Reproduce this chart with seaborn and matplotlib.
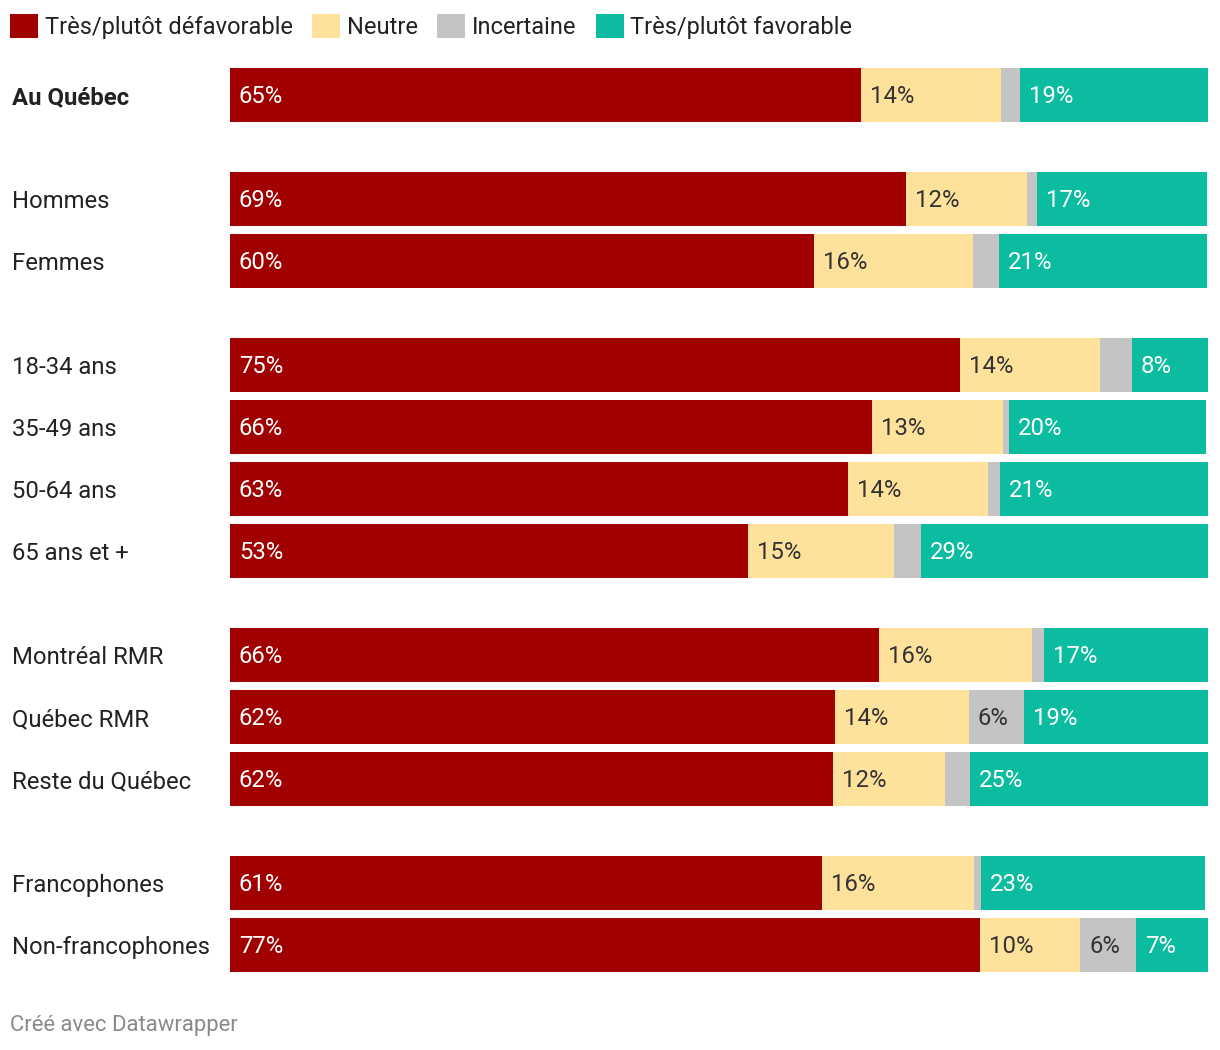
import matplotlib
matplotlib.use("Agg")
import matplotlib.pyplot as plt
from matplotlib.patches import Patch
import seaborn as sns
import pandas as pd
import numpy as np

# ---------------- data ----------------
rows = ["Au Québec", "Hommes", "Femmes", "18-34 ans", "35-49 ans", "50-64 ans",
        "65 ans et +", "Montréal RMR", "Québec RMR", "Reste du Québec",
        "Francophones", "Non-francophones"]
groups = [0, 1, 1, 2, 2, 2, 2, 3, 3, 3, 4, 4]
series = ["Très/plutôt défavorable", "Neutre", "Incertaine", "Très/plutôt favorable"]
defavorable = [64.5, 69.1, 59.7, 74.6, 65.6, 63.2, 53.0, 66.3, 61.8, 61.6, 60.5, 76.7]
neutre = [14.3, 12.4, 16.2, 14.3, 13.4, 14.3, 14.9, 15.7, 13.7, 11.5, 15.5, 10.2]
incertaine = [2.0, 1.0, 2.7, 3.3, 0.6, 1.2, 2.7, 1.2, 5.7, 2.5, 0.8, 5.7]
favorable = [19.2, 17.4, 21.3, 7.8, 20.2, 21.3, 29.4, 16.8, 18.8, 24.5, 22.9, 7.4]

colors = ["#a00000", "#fee29c", "#c4c4c4", "#0bbca0"]
text_colors = ["white", "#333333", "#333333", "white"]

# ---------------- layout ----------------
W, H, DPI = 1220, 1050, 100
plt.rcParams["font.family"] = ["Roboto", "DejaVu Sans"]
fig = plt.figure(figsize=(W / DPI, H / DPI), dpi=DPI)
fig.patch.set_facecolor("white")

PITCH, GAP, BAR = 62, 42, 54
pos = [i * PITCH + g * GAP for i, g in enumerate(groups)]

ax_left, ax_right = 230, 1208.3
ax_top, ax_bottom = 68, 972
ax = fig.add_axes([ax_left / W, 1 - ax_bottom / H, (ax_right - ax_left) / W,
                   (ax_bottom - ax_top) / H])

vals = np.array([defavorable, neutre, incertaine, favorable])
cum = np.cumsum(vals, axis=0)
df = pd.DataFrame({"pos": pos})
for k in range(4):
    df[f"c{k}"] = cum[k]

# overlay cumulative bars, largest first
for k in [3, 2, 1, 0]:
    sns.barplot(data=df, x=f"c{k}", y="pos", orient="h", native_scale=True,
                color=colors[k], saturation=1, width=BAR / PITCH,
                errorbar=None, linewidth=0, edgecolor="none", ax=ax)

ax.set_xlim(0, 100)
ax.set_ylim(pos[-1] + BAR / 2, pos[0] - BAR / 2)

FS = 17.2
# value labels
starts = np.vstack([np.zeros(len(rows)), cum[:-1]])
for k in range(4):
    for i in range(len(rows)):
        v = vals[k, i]
        if v >= 5:
            ax.annotate(f"{int(v + 0.5)}%", xy=(starts[k, i], pos[i]),
                        xytext=(9, 1), textcoords="offset pixels",
                        ha="left", va="center_baseline", fontsize=FS,
                        color=text_colors[k])

# row labels
ax.set_yticks(pos)
ax.set_yticklabels(rows)
ax.tick_params(axis="y", length=0, pad=(ax_left - 12) * 72 / DPI, labelsize=FS,
               labelcolor="#222222")
for lab in ax.get_yticklabels():
    lab.set_horizontalalignment("left")
    if lab.get_text() == "Au Québec":
        lab.set_fontweight("bold")
ax.set_xticks([])
ax.set_xlabel("")
ax.set_ylabel("")
for s in ax.spines.values():
    s.set_visible(False)

# legend
LFS = 17.0
px = LFS * DPI / 72
handles = [Patch(facecolor=c, edgecolor="none") for c in colors]
fig.legend(handles, series, loc="upper left", bbox_to_anchor=(10 / W, 1 - 14 / H),
           ncol=4, frameon=False, fontsize=LFS, borderpad=0, borderaxespad=0,
           handlelength=28 / px, handleheight=28 / px, handletextpad=7 / px,
           columnspacing=19 / px, labelcolor="#222222")

fig.text(10 / W, 1 - 1025 / H, "Créé avec Datawrapper", fontsize=15.9,
         color="#8a8a8a", ha="left", va="center")

fig.savefig("out.png", dpi=DPI, facecolor="white")
